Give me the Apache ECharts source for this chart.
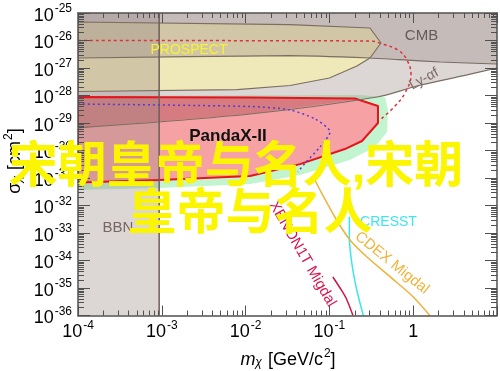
<!DOCTYPE html>
<html><head><meta charset="utf-8">
<script src="https://cdn.jsdelivr.net/npm/echarts@6/dist/echarts.min.js"></script>
<style>html,body{margin:0;padding:0;background:#fff}#c{width:500px;height:371px}</style>
</head><body><div id="c"></div>
<script>
// ---- data: m_chi [GeV/c^2], sigma [cm^2] ----
const xTickExps = [-4, -3, -2, -1, 0, 1];
const yTickExps = [-36, -35, -34, -33, -32, -31, -30, -29, -28, -27, -26, -25];
const cmbEdge = [[1e-4, 2.31e-27], [3.39e-2, 2.8e-27], [0.305, 2.31e-27], [0.695, 2.0e-27], [2.09, 1.65e-27], [10, 1.4e-27]];
const lyaEdge = [[1e-4, 6.6e-30], [1.13e-2, 2.12e-29], [0.37, 8.8e-29], [1.11, 2.21e-28], [4.39, 5.6e-28], [10, 1e-27]];
const prospect = [[1e-4, 4.71e-26], [3.39e-2, 3.76e-26], [0.305, 2.85e-26], [0.413, 8.1e-27], [0.305, 2.31e-27], [0.213, 1.18e-27], [0.1, 4.33e-28], [3.39e-2, 2.31e-28], [7.9e-3, 1.63e-28], [1e-4, 1.4e-28]];
const pandax = [[1e-4, 8.8e-29], [1.13e-2, 8.5e-29], [0.202, 7.8e-29], [0.38, 4.15e-29], [0.38, 1e-29], [0.245, 2.21e-30], [0.153, 1.13e-30], [4.46e-2, 3.2e-31], [1.13e-2, 1.18e-31], [9.5e-4, 8.5e-32], [1e-4, 6.9e-32]];
const pandaxBand = [[1e-4, 9.6e-29], [0.232, 1.04e-28], [0.461, 8.8e-29], [0.5, 2.97e-29], [0.487, 4.7e-30], [0.35, 1.34e-30], [0.176, 4.5e-31], [4.46e-2, 1.29e-31], [1.13e-2, 6.05e-32], [9.5e-4, 4.33e-32], [1e-4, 3.66e-32]];
const bbnMaxMass = 9.3e-4;
const blueDotted = [[1e-4, 4.9e-29], [1.13e-2, 3.98e-29], [3.39e-2, 2.97e-29], [6.73e-2, 1.4e-29], [0.1016, 4.7e-30], [7.72e-2, 1.34e-30], [5.26e-2, 3.8e-31], [4.2e-2, 1.65e-31]];
const redDashed = [[1e-4, 1e-26], [0.305, 9.6e-27], [0.425, 7.5e-27], [0.659, 4.5e-27], [0.843, 1.95e-27], [0.942, 5.6e-28], [0.798, 1.23e-28], [0.607, 4.15e-29], [0.402, 1.29e-29]];
const xenon1tMigdal = [[0.110, 2.51e-35], [0.134, 1e-35], [0.158, 4.33e-36], [0.191, 1e-36]];
const cresst = [[0.173, 3.9e-33], [0.173, 7.3e-34], [0.185, 8.1e-35], [0.212, 8.5e-36], [0.254, 1e-36]];
const cdexMigdal = [[6.55e-2, 1e-31], [7.72e-2, 3.66e-32], [0.122, 2.97e-33], [0.176, 5.6e-34], [0.279, 1.37e-34], [0.528, 2.58e-35], [0.995, 4.83e-36], [1.58, 1e-36]];

// ---- helpers ----
const L = p => [Math.log10(p[0]), Math.log10(p[1])];
const FRAME = '#505050';
const FONT = '"Liberation Sans", Arial, Helvetica, sans-serif';
const GRAY = 'rgba(154,138,134,0.35)';
const EDGE = '#7d6e62';

const cmbPoly = [[1e-4, 1e-25]].concat(cmbEdge, [[10, 1e-25]]);
const lyaPoly = [[1e-4, 1e-25]].concat(lyaEdge, [[10, 1e-25]]);
const bbnPoly = [[1e-4, 1e-25], [bbnMaxMass, 1e-25], [bbnMaxMass, 1e-36], [1e-4, 1e-36]];
const bbnEdge = [[bbnMaxMass, 1e-36], [bbnMaxMass, 1e-25]];

function poly(pts, fill, stroke, lw, clipPts) {
  return {
    type: 'custom', coordinateSystem: 'cartesian2d', silent: true, clip: true, animation: false,
    data: [[-4, -36]],
    renderItem: (params, api) => {
      const el = {
        type: 'polygon',
        shape: { points: pts.map(p => api.coord(L(p))) },
        style: { fill: fill || 'none', stroke: stroke || 'none', lineWidth: lw || 0, lineJoin: 'round' }
      };
      if (clipPts) el.clipPath = { type: 'polygon', shape: { points: clipPts.map(p => api.coord(L(p))) } };
      return el;
    }
  };
}
function curve(pts, color, width, type, smooth) {
  return {
    type: 'line', data: pts.map(L), symbol: 'none', showSymbol: false, silent: true,
    animation: false, clip: true, smooth: smooth || false,
    lineStyle: { color: color, width: width, type: type || 'solid' }
  };
}
const xMinor = [];
for (let d = -4; d <= 0; d++) for (let k = 2; k <= 9; k++) xMinor.push(k * Math.pow(10, d));
const yMinor = [];
for (let d = -36; d <= -26; d++) for (let k = 2; k <= 9; k++) yMinor.push(k * Math.pow(10, d));

const tickStyle = { stroke: FRAME, lineWidth: 1 };
const xMinorSeries = {
  type: 'custom', coordinateSystem: 'cartesian2d', silent: true, animation: false, z: 10,
  data: xMinor.map(v => [Math.log10(v), -36]),
  renderItem: (params, api) => {
    const cs = params.coordSys;
    const x = Math.round(api.coord([api.value(0), -36])[0]) + 0.5;
    const yb = cs.y + cs.height;
    return { type: 'group', children: [
      { type: 'line', shape: { x1: x, y1: yb, x2: x, y2: yb - 5 }, style: tickStyle },
      { type: 'line', shape: { x1: x, y1: cs.y, x2: x, y2: cs.y + 5 }, style: tickStyle }
    ] };
  }
};
const yMinorSeries = {
  type: 'custom', coordinateSystem: 'cartesian2d', silent: true, animation: false, z: 10,
  data: yMinor.map(v => [-4, Math.log10(v)]),
  renderItem: (params, api) => {
    const cs = params.coordSys;
    const y = Math.round(api.coord([-4, api.value(1)])[1]) + 0.5;
    const xr = cs.x + cs.width;
    return { type: 'group', children: [
      { type: 'line', shape: { x1: cs.x, y1: y, x2: cs.x + 6, y2: y }, style: tickStyle },
      { type: 'line', shape: { x1: xr, y1: y, x2: xr - 6, y2: y }, style: tickStyle }
    ] };
  }
};

const labelRich = {
  base: { fontSize: 18, fontFamily: FONT, color: '#000', lineHeight: 24, verticalAlign: 'bottom' },
  exp: { fontSize: 12, fontFamily: FONT, color: '#000', lineHeight: 24, verticalAlign: 'top', padding: [2, 0, 0, 1] }
};
function axisCommon(pos, isX, showLabel) {
  return {
    type: 'value', position: pos, z: 10,
    min: isX ? xTickExps[0] : yTickExps[0],
    max: isX ? xTickExps[xTickExps.length - 1] : yTickExps[yTickExps.length - 1],
    interval: 1,
    splitLine: { show: false },
    axisLine: { show: true, onZero: false, lineStyle: { color: FRAME, width: 1.5 } },
    axisTick: { show: true, inside: true, length: isX ? 10 : 12, lineStyle: { color: FRAME, width: 1 } },
    axisLabel: showLabel ? {
      show: true, margin: isX ? 2 : 6, showMinLabel: true, showMaxLabel: true, hideOverlap: false,
      fontSize: 18, fontFamily: FONT, color: '#000',
      formatter: v => {
        const e = Math.round(v);
        if (isX && e === 0) return '{base|1}';
        if (isX && e === 1) return '';
        return '{base|10}{exp|' + e + '}';
      },
      rich: labelRich
    } : { show: false }
  };
}

function label(text, x, y, color, size, rot, extra) {
  const st = Object.assign({
    text: text, fill: color, font: size + 'px ' + FONT,
    align: 'center', verticalAlign: 'middle', textAlign: 'center', textVerticalAlign: 'middle'
  }, extra || {});
  return { type: 'text', x: x, y: y, rotation: rot || 0, z: 100, silent: true, style: st };
}
const CJK = 'bold 49px "Liberation Sans", "Noto Sans CJK SC", sans-serif';

const chart = echarts.init(document.getElementById('c'), null, { renderer: 'canvas' });
chart.setOption({
  animation: false,
  backgroundColor: '#fff',
  grid: { left: 78, right: 3, top: 13, bottom: 55.5, containLabel: false, outerBoundsMode: 'none' },
  xAxis: [axisCommon('bottom', true, true), axisCommon('top', true, false)],
  yAxis: [axisCommon('left', false, true), axisCommon('right', false, false)],
  series: [
    poly(pandaxBand, '#c3f4d0'),
    poly(pandax, '#f6a2a5'),
    poly(lyaPoly, GRAY),
    poly(pandax, 'rgba(215,55,65,0.3)', null, 0, lyaPoly),
    poly(prospect, 'rgba(252,244,165,0.6)'),
    poly(cmbPoly, GRAY),
    poly(bbnPoly, GRAY),
    poly(prospect, null, EDGE, 1.2),
    curve(cmbEdge, EDGE, 1.2, 'solid', 0.2),
    curve(lyaEdge, EDGE, 1.2, 'solid', 0.3),
    curve(bbnEdge, '#6f5d58', 1.5),
    poly(pandax, null, '#e8141c', 2),
    curve(blueDotted, '#5a37d6', 1.5, [2, 3], 0.25),
    curve(redDashed, '#e0303a', 1.5, [3, 3], 0.4),
    curve(xenon1tMigdal, '#d0144c', 1.5, 'solid', 0.3),
    curve(cresst, '#3ae4ee', 1.5, 'solid', 0.3),
    curve(cdexMigdal, '#efb23a', 1.5, 'solid', 0.3),
    xMinorSeries,
    yMinorSeries
  ],
  graphic: { elements: [
    label('CMB', 421.5, 35.5, '#675b58', 15),
    label('Ly-αf', 424, 79, '#7d6a66', 14, 0.5, { fontStyle: 'italic' }),
    label('PROSPECT', 189, 50.5, '#f7f235', 14),
    label('PandaX-II', 228, 136, '#111', 17, 0, { font: 'bold 17px ' + FONT }),
    label('BBN', 118, 228, '#7a6661', 15),
    label('CRESST', 388.5, 222.5, '#3de6ee', 14),
    label('CDEX Migdal', 392, 263, '#f0b43c', 15, -0.677),
    label('XENON1T Migdal', 302.5, 254, '#d8164f', 15, -Math.PI / 3),
    label('{i|m}{sub|χ}{n| [GeV/c}{sup|2}{n|]}', 288, 357, '#000', 17, 0, {
      rich: {
        i: { fontSize: 18, fontFamily: FONT, fontStyle: 'italic', fill: '#000', lineHeight: 24, verticalAlign: 'bottom' },
        n: { fontSize: 18, fontFamily: FONT, fill: '#000', lineHeight: 24, verticalAlign: 'bottom' },
        sub: { fontSize: 12, fontFamily: FONT, fontStyle: 'italic', fill: '#000', lineHeight: 24, verticalAlign: 'bottom', padding: [0, 1, 0, 0] },
        sup: { fontSize: 12, fontFamily: FONT, fill: '#000', lineHeight: 24, verticalAlign: 'top', padding: [3, 0, 0, 1] }
      }
    }),
    label('{n|σ}{sub|χ}{n| [cm}{sup|2}{n|]}', 12, 161, '#000', 17, Math.PI / 2, {
      rich: {
        n: { fontSize: 18, fontFamily: FONT, fill: '#000', lineHeight: 24, verticalAlign: 'bottom' },
        sub: { fontSize: 12, fontFamily: FONT, fontStyle: 'italic', fill: '#000', lineHeight: 24, verticalAlign: 'bottom', padding: [0, 1, 0, 0] },
        sup: { fontSize: 12, fontFamily: FONT, fill: '#000', lineHeight: 24, verticalAlign: 'top', padding: [3, 0, 0, 1] }
      }
    }),
    label('宋朝皇帝与名人,宋朝', 236, 168, '#fbf500', 49, 0, { font: CJK }),
    label('皇帝与名人', 250, 215, '#fbf500', 49, 0, { font: CJK })
  ] }
});
</script></body></html>
